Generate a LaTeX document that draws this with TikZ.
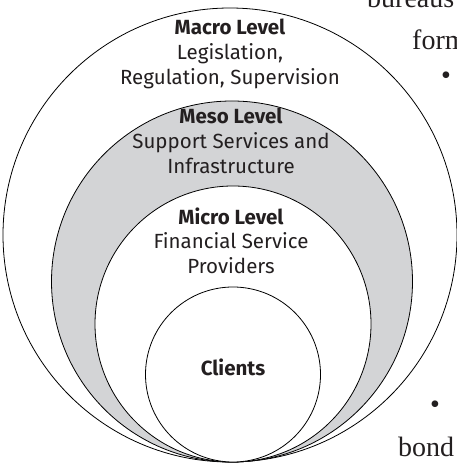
\documentclass[tikz,border=0pt]{standalone}
\usepackage{fontspec}
\setmainfont{Liberation Serif}
\newfontfamily\levelfont{Fira Sans}
\usetikzlibrary{positioning}

\definecolor{mesogray}{HTML}{D3D4D6}
\definecolor{inkgray}{HTML}{231F20}

\begin{document}
\begin{tikzpicture}[
    x = 1pt, y = 1pt,
    ring/.style = {circle, draw = black, line width = 0.8pt, fill = white, inner sep = 0pt},
    levelname/.style = {anchor = base, inner sep = 0pt, text = inkgray, font = \levelfont\fontsize{20.5}{24}\selectfont\bfseries},
    leveltext/.style = {anchor = base, inner sep = 0pt, text = inkgray, font = \levelfont\fontsize{20.5}{24}\selectfont},
    pagetext/.style = {anchor = base west, inner sep = 0pt, text = inkgray, font = \fontsize{28}{32}\selectfont}
    ]

    \useasboundingbox (0,0) rectangle (457,463);
    \clip (0,0) rectangle (457,463);

    % nested levels, all touching at the bottom
    \node[ring, minimum size = 454] (macro) at (230,228) {};
    \node[ring, minimum size = 361, fill = mesogray] (meso) at (232,181.5) {};
    \node[ring, minimum size = 276] (micro) at (233,139) {};
    \node[ring, minimum size = 175] (clients) at (233,88.5) {};

    % labels
    \node[levelname] (macro name) at (230,428.5) {Macro Level};
    \node[leveltext] (macro l1) at ([yshift=-25]macro name.base) {Legislation,};
    \node[leveltext] (macro l2) at ([yshift=-25]macro l1.base) {Regulation, Supervision};

    \node[levelname] (meso name) at (231,339) {Meso Level};
    \node[leveltext] (meso l1) at ([yshift=-25]meso name.base) {Support Services and};
    \node[leveltext] (meso l2) at ([yshift=-25]meso l1.base) {Infrastructure};

    \node[levelname] (micro name) at (231,238) {Micro Level};
    \node[leveltext] (micro l1) at ([yshift=-24]micro name.base) {Financial Service};
    \node[leveltext] (micro l2) at ([yshift=-25]micro l1.base) {Providers};

    \node[levelname] (clients name) at (233,87) {Clients};

    % running text of the page beside the figure
    \node[pagetext] (page1) at (367,455) {bureaus};
    \node[pagetext] (page2) at (412,413) {form};
    \node[pagetext] (page3) at (441,378) {•};
    \node[pagetext] (page4) at (430,49) {•};
    \node[pagetext] (page5) at (398,6) {bond};
\end{tikzpicture}
\end{document}
